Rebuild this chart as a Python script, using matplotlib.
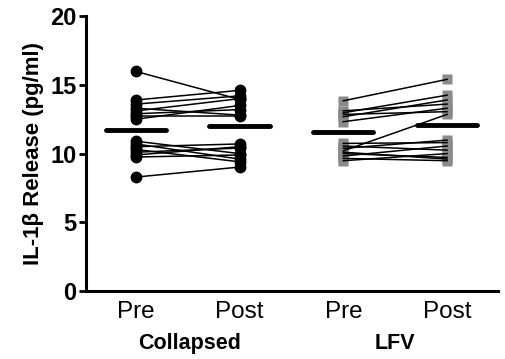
import numpy as np
import matplotlib
matplotlib.use("Agg")
import matplotlib.pyplot as plt

plt.rcParams['font.family'] = ['Liberation Sans', 'DejaVu Sans']

# paired values (pg/ml)
collapsed_pre = [15.98, 13.9, 13.6, 13.3, 13.1, 12.9, 12.7, 12.5,
                 10.9, 10.7, 10.5, 10.3, 10.1, 9.9, 9.75, 8.29]
collapsed_post = [13.94, 14.6, 14.2, 12.8, 14.0, 13.2, 12.7, 13.5,
                  10.0, 9.6, 10.7, 9.4, 10.4, 10.5, 9.9, 9.02]
lfv_pre = [13.84, 13.11, 12.97, 12.85, 12.68, 12.32, 10.74, 10.55,
           10.38, 10.2, 10.0, 9.82, 9.65, 9.48, 10.1]
lfv_post = [15.4, 13.6, 14.25, 13.05, 13.9, 13.3, 10.8, 10.25,
            10.98, 12.85, 9.72, 10.55, 9.48, 10.0, 9.6]

# group means as drawn
means = [11.68, 12.0, 11.56, 12.07]

tick_labels = ["Pre", "Post", "Pre", "Post"]
groups = ["Collapsed", "LFV"]

fig = plt.figure(figsize=(5.06, 3.59), dpi=100)
ax = fig.add_axes([0.170, 0.1894, 0.814, 0.7656])

# connecting lines
for a, b in zip(collapsed_pre, collapsed_post):
    ax.plot([0, 1], [a, b], color='black', lw=1.1, zorder=2)
for a, b in zip(lfv_pre, lfv_post):
    ax.plot([2, 3], [a, b], color='black', lw=1.1, zorder=2)

# markers
ax.plot(np.zeros(len(collapsed_pre)), collapsed_pre, 'o', color='black',
        ms=7.5, zorder=3)
ax.plot(np.ones(len(collapsed_post)), collapsed_post, 'o', color='black',
        ms=7.5, zorder=3)
ax.plot(np.full(len(lfv_pre), 2), lfv_pre, 's', color='#8a8a8a',
        mec='none', ms=7.8, zorder=1)
ax.plot(np.full(len(lfv_post), 3), lfv_post, 's', color='#8a8a8a',
        mec='none', ms=7.8, zorder=1)

# mean bars
for i, m in enumerate(means):
    ax.plot([i - 0.29, i + 0.29], [m, m], color='black', lw=3.5,
            solid_capstyle='round', zorder=4)

ax.set_xlim(-0.48, 3.49)
ax.set_ylim(0, 20)
ax.set_yticks([0, 5, 10, 15, 20])
ax.set_xticks(range(4))
ax.set_xticklabels(tick_labels, fontsize=17.5)
ax.tick_params(axis='x', length=0, pad=7)
ax.tick_params(axis='y', length=5, width=2, labelsize=17, pad=2)
for lab in ax.get_yticklabels():
    lab.set_fontweight('bold')

for s in ['top', 'right']:
    ax.spines[s].set_visible(False)
for s in ['left', 'bottom']:
    ax.spines[s].set_linewidth(2.2)

ax.set_ylabel("IL-1β Release (pg/ml)", fontsize=16, fontweight='bold',
              labelpad=4)

for x, g in zip([0.52, 2.5], groups):
    ax.text(x, -0.19, g, transform=ax.get_xaxis_transform(), ha='center',
            va='center', fontsize=15.5, fontweight='bold')

fig.savefig("out.png", dpi=100)
